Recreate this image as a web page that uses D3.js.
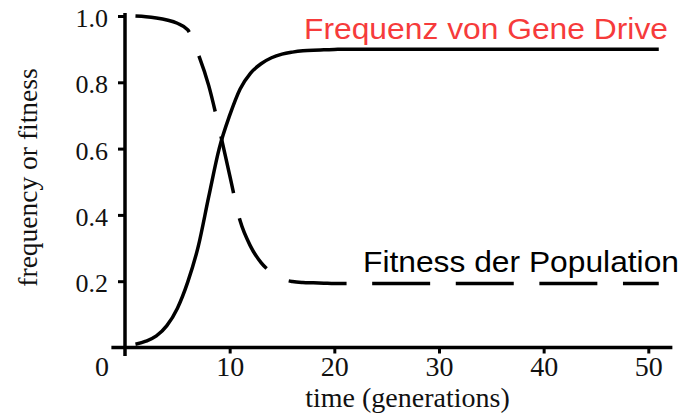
<!DOCTYPE html>
<html>
<head>
<meta charset="utf-8">
<script src="https://cdn.jsdelivr.net/npm/d3@7"></script>
<style>
  html, body { margin: 0; padding: 0; background: #fff; }
  svg { display: block; }
</style>
</head>
<body>
<svg id="chart" width="699" height="414"></svg>
<script>
// Generations simulated
const generations = [
  1, 2, 3, 4, 5, 6, 7, 8, 9, 10,
  11, 12, 13, 14, 15, 16, 17, 18, 19, 20,
  21, 22, 23, 24, 25, 26, 27, 28, 29, 30,
  31, 32, 33, 34, 35, 36, 37, 38, 39, 40,
  41, 42, 43, 44, 45, 46, 47, 48, 49, 50, 51
];

// Frequency of the gene drive allele per generation
const geneDriveFrequency = [
  0.010, 0.019, 0.035, 0.066, 0.118, 0.198, 0.305, 0.455, 0.600, 0.700,
  0.780, 0.828, 0.856, 0.874, 0.885, 0.891, 0.895, 0.897, 0.898, 0.899,
  0.900, 0.900, 0.900, 0.900, 0.900, 0.900, 0.900, 0.900, 0.900, 0.900,
  0.900, 0.900, 0.900, 0.900, 0.900, 0.900, 0.900, 0.900, 0.900, 0.900,
  0.900, 0.900, 0.900, 0.900, 0.900, 0.900, 0.900, 0.900, 0.900, 0.900, 0.900
];

// Mean fitness of the population per generation
const populationFitness = [
  1.000, 0.998, 0.994, 0.988, 0.978, 0.958, 0.885, 0.790, 0.660, 0.520,
  0.382, 0.305, 0.256, 0.226, 0.207, 0.199, 0.196, 0.195, 0.194, 0.193,
  0.193, 0.193, 0.193, 0.193, 0.193, 0.193, 0.193, 0.193, 0.193, 0.193,
  0.193, 0.193, 0.193, 0.193, 0.193, 0.193, 0.193, 0.193, 0.193, 0.193,
  0.193, 0.193, 0.193, 0.193, 0.193, 0.193, 0.193, 0.193, 0.193, 0.193, 0.193
];

const xTickValues = [10, 20, 30, 40, 50];
const yTickValues = [0.2, 0.4, 0.6, 0.8, 1.0];
const originLabel = "0";
const xTitle = "time (generations)";
const yTitle = "frequency or fitness";
const driveLabel = "Frequenz von Gene Drive";
const fitnessLabel = "Fitness der Population";

const serif = "'Liberation Serif', 'Times New Roman', serif";
const sans = "'Liberation Sans', Arial, sans-serif";
const ink = "#111";

const svg = d3.select("#chart");

const x = d3.scaleLinear().domain([0, 50]).range([125, 648.3]);
const y = d3.scaleLinear().domain([0, 1]).range([347.5, 16]);

// Axis lines crossing at the origin
svg.append("line")
  .attr("x1", x(0)).attr("x2", x(0))
  .attr("y1", y(-0.026)).attr("y2", y(1.009))
  .attr("stroke", "#000").attr("stroke-width", 3.5);
svg.append("line")
  .attr("x1", x(-1.3)).attr("x2", x(52.3))
  .attr("y1", y(0)).attr("y2", y(0))
  .attr("stroke", "#000").attr("stroke-width", 3.5);

// Y axis ticks and labels
const yAxis = svg.append("g")
  .attr("transform", `translate(${x(0)},0)`)
  .call(d3.axisLeft(y).tickValues(yTickValues).tickSize(7).tickPadding(10)
    .tickFormat(d3.format(".1f")));
yAxis.select(".domain").remove();
yAxis.selectAll(".tick line").attr("stroke", "#000").attr("stroke-width", 3);
yAxis.selectAll(".tick text")
  .attr("dy", "0.41em")
  .attr("fill", ink)
  .style("font-family", serif)
  .style("font-size", "26px");

// X axis ticks and labels
const xAxis = svg.append("g")
  .attr("transform", `translate(0,${y(0)})`)
  .call(d3.axisBottom(x).tickValues(xTickValues).tickSize(6).tickPadding(2.6)
    .tickFormat(d3.format("d")));
xAxis.select(".domain").remove();
xAxis.selectAll(".tick line").attr("stroke", "#000").attr("stroke-width", 3);
xAxis.selectAll(".tick text")
  .attr("fill", ink)
  .style("font-family", serif)
  .style("font-size", "28px");

// Shared origin label
svg.append("text")
  .attr("x", x(0) - 23).attr("y", y(0) + 28.5)
  .attr("text-anchor", "middle")
  .attr("fill", ink)
  .style("font-family", serif).style("font-size", "28px")
  .text(originLabel);

// Axis titles
svg.append("text")
  .attr("x", 407.5).attr("y", 407)
  .attr("text-anchor", "middle")
  .attr("fill", ink)
  .style("font-family", serif).style("font-size", "28px")
  .text(xTitle);

svg.append("text")
  .attr("transform", "translate(37,177.5) rotate(-90)")
  .attr("text-anchor", "middle")
  .attr("fill", ink)
  .style("font-family", serif).style("font-size", "27.5px")
  .text(yTitle);

// Curves
const line = d3.line()
  .x((d, i) => x(generations[i]))
  .curve(d3.curveMonotoneX);

svg.append("path")
  .datum(geneDriveFrequency)
  .attr("d", line.y(d => y(d)))
  .attr("fill", "none")
  .attr("stroke", "#000")
  .attr("stroke-width", 3.5)
  .attr("stroke-linejoin", "round");

svg.append("path")
  .datum(populationFitness)
  .attr("d", line.y(d => y(d)))
  .attr("fill", "none")
  .attr("stroke", "#000")
  .attr("stroke-width", 3.5)
  .attr("stroke-dasharray", "58 25.6");

// Curve annotations
svg.append("text")
  .attr("x", 304).attr("y", 39)
  .attr("fill", "#f63b3b")
  .attr("textLength", 364)
  .attr("lengthAdjust", "spacingAndGlyphs")
  .style("font-family", sans).style("font-size", "29px")
  .text(driveLabel);

svg.append("text")
  .attr("x", 363).attr("y", 272)
  .attr("fill", "#000")
  .attr("textLength", 316)
  .attr("lengthAdjust", "spacingAndGlyphs")
  .style("font-family", sans).style("font-size", "29px")
  .text(fitnessLabel);
</script>
</body>
</html>
